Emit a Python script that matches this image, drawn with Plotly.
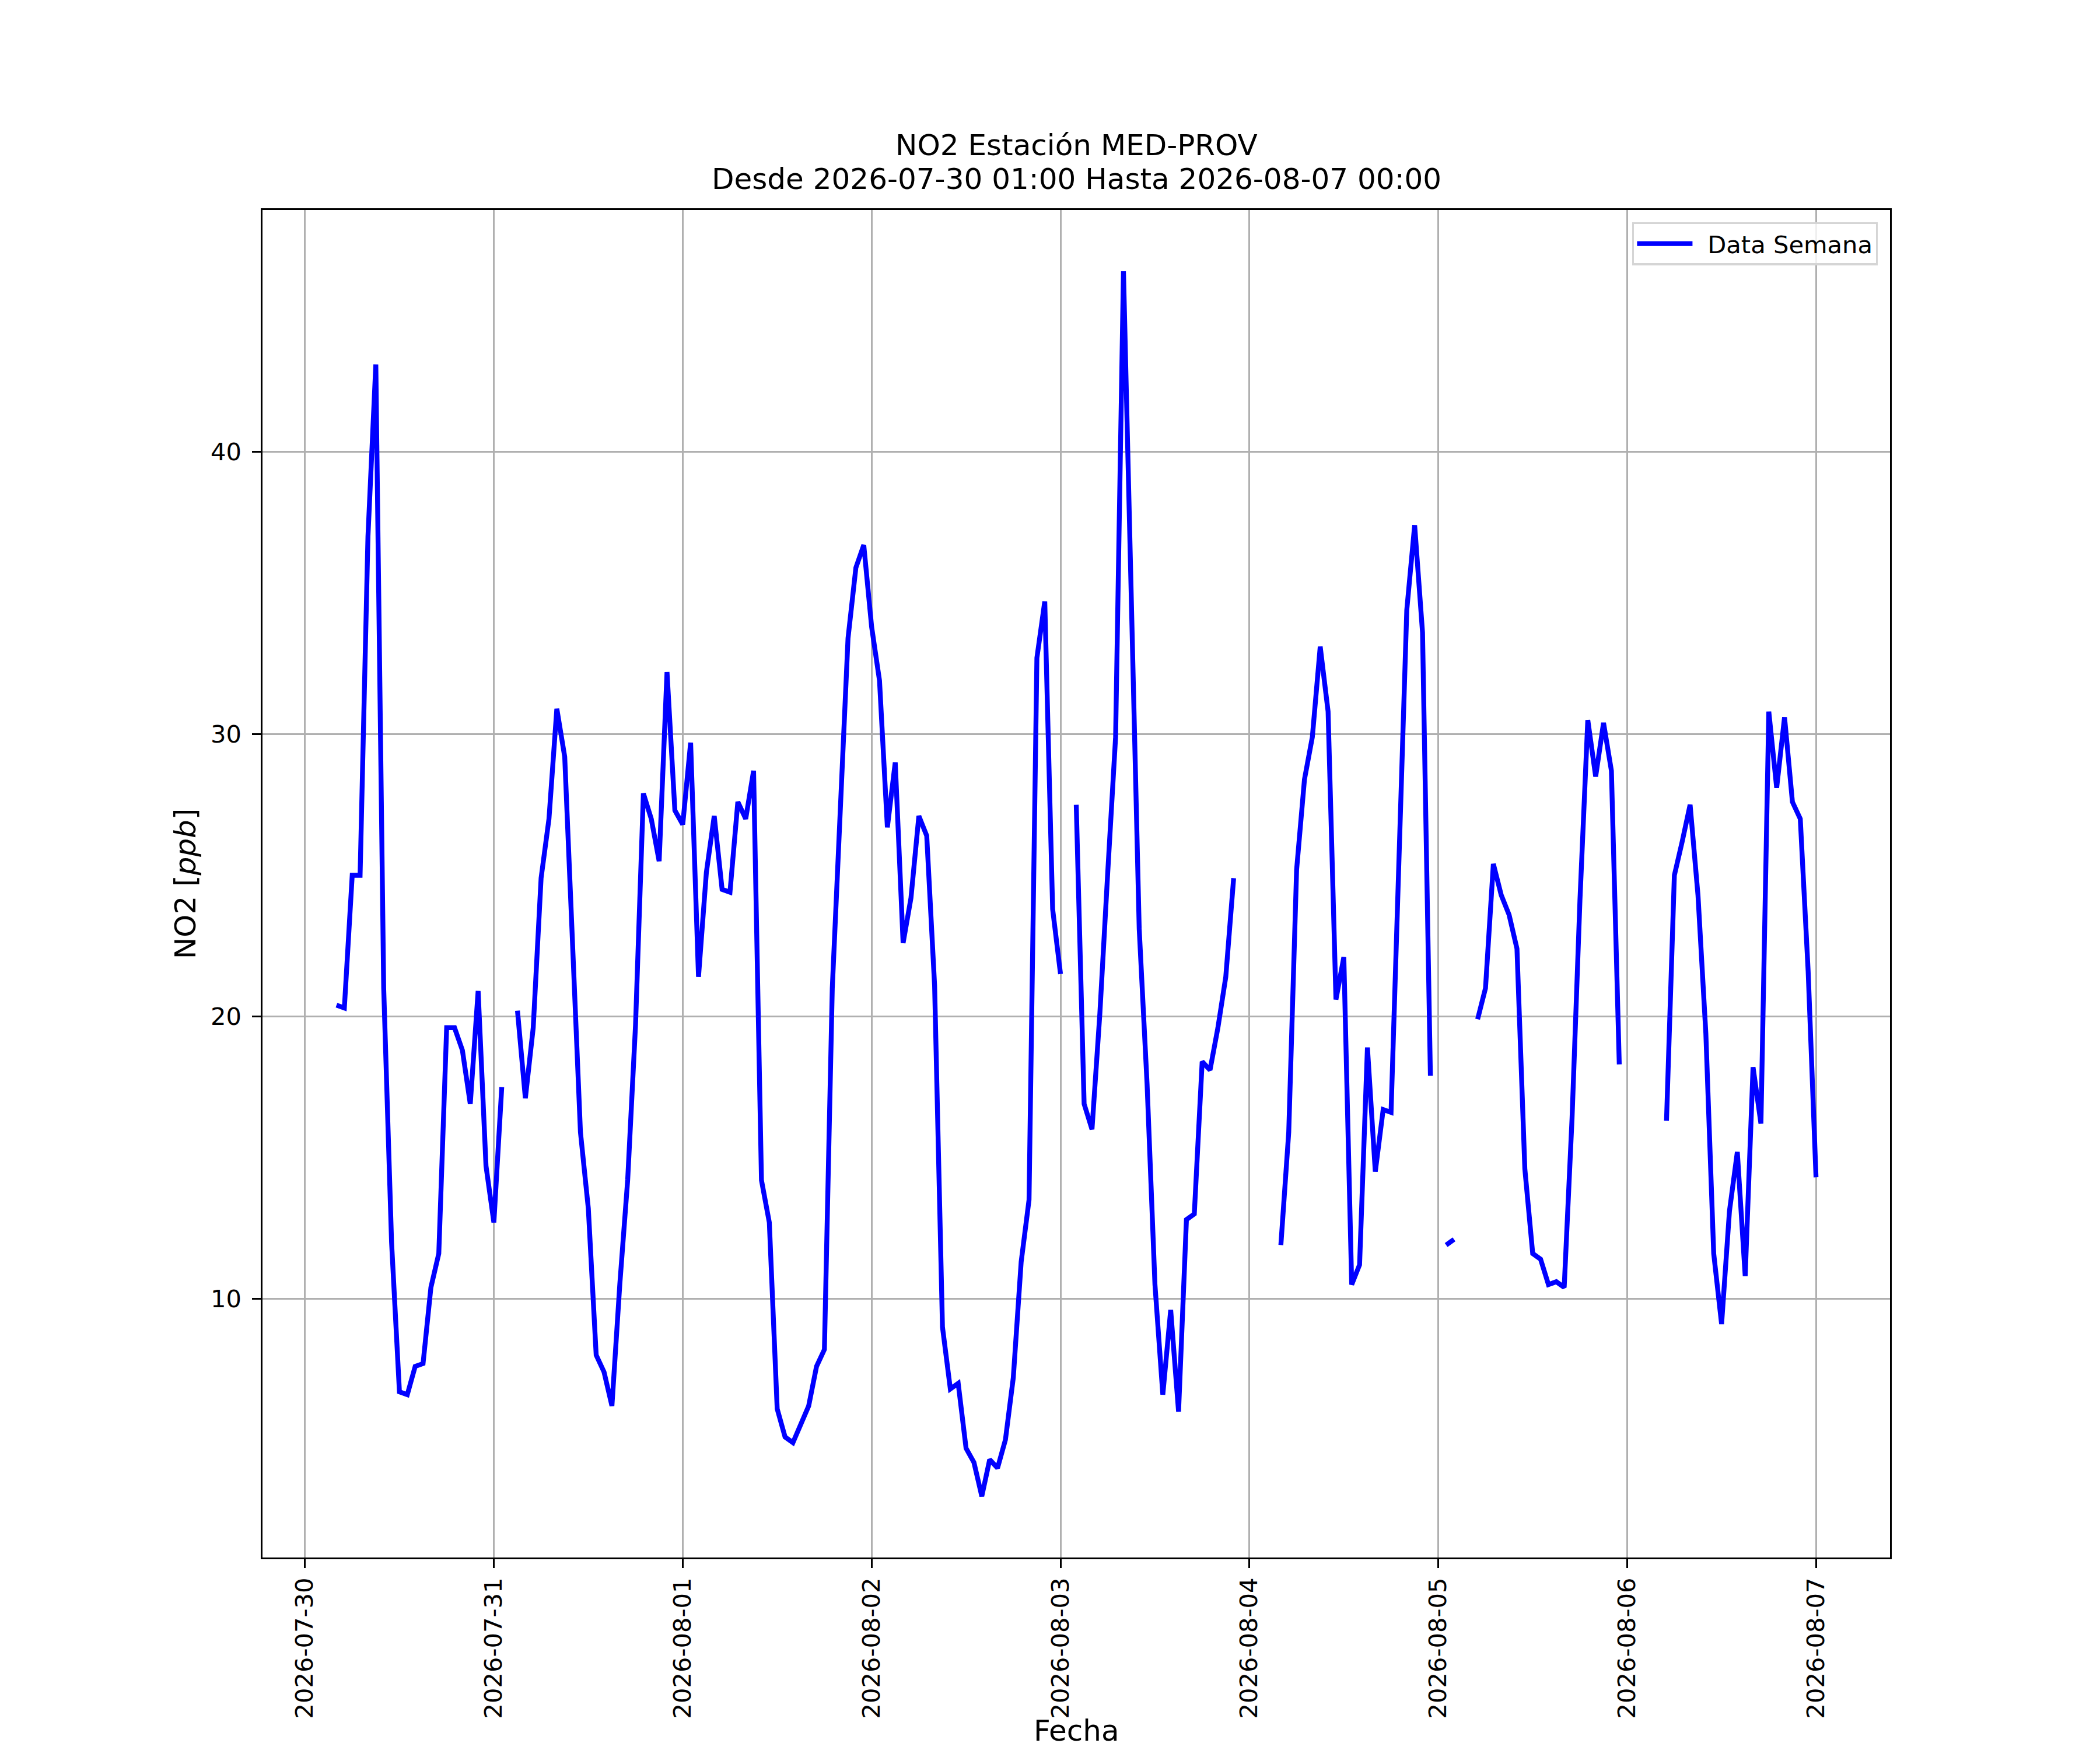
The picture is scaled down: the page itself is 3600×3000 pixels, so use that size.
import pandas as pd
import plotly.graph_objects as go

# Hourly NO2 values (ppb), series starts 2026-07-30 01:00 ; None = missing
day_0730 = [None, None, None, 20.4, 20.3, 25.0, 25.0, 37.0, 43.1, 21.0, 12.0, 6.7,
            6.6, 7.6, 7.7, 10.4, 11.6, 19.6, 19.6, 18.8, 16.9, 20.9, 14.7]  # 01:00-23:00
day_0731 = [12.7, 17.5, None, 20.2, 17.1, 19.6, 24.9, 27.0, 30.9, 29.2, 22.1, 15.9,
            13.2, 8.0, 7.4, 6.2, 10.5, 14.2, 19.7, 27.9, 27.0, 25.5, 32.2, 27.3]
day_0801 = [26.8, 29.7, 21.4, 25.1, 27.1, 24.5, 24.4, 27.6, 27.0, 28.7, 14.2, 12.7,
            6.1, 5.1, 4.9, 5.6, 6.2, 7.6, 8.2, 21.0, 27.0, 33.4, 35.9, 36.7]
day_0802 = [33.8, 31.9, 26.7, 29.0, 22.6, 24.2, 27.1, 26.4, 21.1, 9.0, 6.8, 7.0,
            4.7, 4.2, 3.0, 4.3, 4.0, 5.0, 7.2, 11.3, 13.5, 32.7, 34.7, 23.8]
day_0803 = [21.5, None, 27.5, 16.9, 16.0, 20.1, 25.1, 29.9, 46.4, 34.0, 23.1, 17.6,
            10.5, 6.6, 9.6, 6.0, 12.8, 13.0, 18.4, 18.1, 19.6, 21.4, 24.9, None]
day_0804 = [None, None, None, None, 11.9, 15.9, 25.2, 28.4, 29.9, 33.1, 30.8, 20.6,
            22.1, 10.5, 11.2, 18.9, 14.5, 16.7, 16.6, 25.1, 34.4, 37.4, 33.6, 17.9]
day_0805 = [None, 11.9, 12.1, None, None, 19.9, 21.0, 25.4, 24.3, 23.6, 22.4, 14.6,
            11.6, 11.4, 10.5, 10.6, 10.4, 16.4, 24.1, 30.5, 28.5, 30.4, 28.7, 18.3]
day_0806 = [None, None, None, None, None, 16.3, 25.0, 26.2, 27.5, 24.3, 19.4, 11.6,
            9.1, 13.1, 15.2, 10.8, 18.2, 16.2, 30.8, 28.1, 30.6, 27.6, 27.0, 21.6]
day_0807 = [14.3]  # 00:00

start_time = "2026-07-30 01:00"
series_name = "Data Semana"
title_line1 = "NO2 Estación MED-PROV"
title_line2 = "Desde 2026-07-30 01:00 Hasta 2026-08-07 00:00"
x_title = "Fecha"
y_title = "NO2 [<i>ppb</i>]"
y_ticks = [10, 20, 30, 40]
x_tick_dates = ["2026-07-30", "2026-07-31", "2026-08-01", "2026-08-02", "2026-08-03",
                "2026-08-04", "2026-08-05", "2026-08-06", "2026-08-07"]

values = (day_0730 + day_0731 + day_0801 + day_0802 + day_0803 + day_0804
          + day_0805 + day_0806 + day_0807)
times = pd.date_range(start_time, periods=len(values), freq="h")

s = pd.Series(values, index=times, dtype="float")
valid = s.dropna()
t0, t1 = valid.index.min(), valid.index.max()
pad_t = (t1 - t0) * 0.05
vmin, vmax = valid.min(), valid.max()
pad_v = (vmax - vmin) * 0.05

FONT = "DejaVu Sans"
PT = 300 / 72.0

fig = go.Figure()
fig.add_trace(go.Scatter(
    x=times, y=values, mode="lines", name="\u2002" + series_name,
    line=dict(color="#0000ff", width=2 * PT), connectgaps=False,
    showlegend=True,
))

axis_common = dict(
    showline=True, linecolor="black", linewidth=0.8 * PT, mirror=True,
    ticks="outside", ticklen=3.5 * PT, tickwidth=0.8 * PT, tickcolor="black",
    showgrid=True, gridcolor="#b0b0b0", gridwidth=0.8 * PT,
    zeroline=False, tickfont=dict(family=FONT, size=10 * PT, color="black"),
    automargin=False,
)

title_font = dict(family=FONT, size=12 * PT, color="black")

fig.update_layout(
    width=3600, height=3000, autosize=False,
    margin=dict(l=450, r=360, t=360, b=330, pad=0),
    paper_bgcolor="white", plot_bgcolor="white",
    font=dict(family=FONT, color="black"),
    xaxis=dict(
        axis_common,
        type="date", range=[t0 - pad_t, t1 + pad_t],
        tickmode="array", tickvals=x_tick_dates, ticktext=x_tick_dates,
        tickangle=-90, ticklabelstandoff=0,
    ),
    yaxis=dict(
        axis_common,
        range=[vmin - pad_v, vmax + pad_v],
        tickmode="array", tickvals=y_ticks, ticklabelstandoff=10,
        title=dict(text=y_title, standoff=10, font=title_font),
    ),
    legend=dict(
        x=0.9925, y=0.991, xanchor="right", yanchor="top",
        bgcolor="rgba(255,255,255,0.8)", bordercolor="#d5d5d5", borderwidth=0.8 * PT,
        font=dict(family=FONT, size=10 * PT, color="black"),
        itemwidth=95,
    ),
    annotations=[
        dict(text=title_line2, xref="paper", yref="paper", x=0.5, y=1,
             xanchor="center", yanchor="bottom", yshift=22, showarrow=False,
             font=title_font),
        dict(text=title_line1, xref="paper", yref="paper", x=0.5, y=1,
             xanchor="center", yanchor="bottom", yshift=22 + 58, showarrow=False,
             font=title_font),
        dict(text=x_title, xref="paper", yref="paper", x=0.5, y=0,
             xanchor="center", yanchor="top", yshift=-266, showarrow=False,
             font=title_font),
    ],
)

fig.write_html("out.html", config={"displayModeBar": False},
               post_script="document.body.style.margin='0px';")
